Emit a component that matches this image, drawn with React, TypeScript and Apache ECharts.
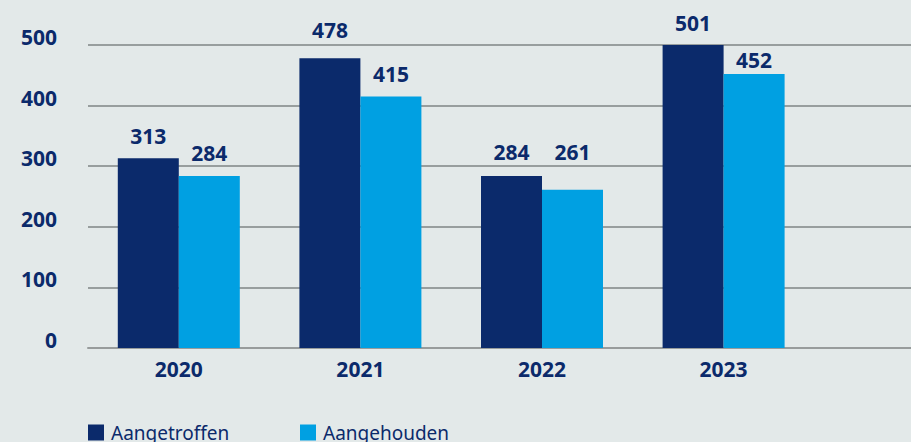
import React, { useEffect, useRef } from "react";
import * as echarts from "echarts";

const categories = ["2020", "2021", "2022", "2023", ""];
const aangetroffen = [313, 478, 284, 501];
const aangehouden = [284, 415, 261, 452];
const seriesNames = ["Aangetroffen", "Aangehouden"];

// vertical nudges of value labels (px, negative = up), as placed in the reference
const nudgeA = [0, -6, -1.5, 0];
const nudgeB = [0, 0, -15.5, 8.5];

const NAVY = "#0b2a6b";
const BLUE = "#00a0e2";
const BG = "#e3e9e9";
const FONT = "'Noto Sans', sans-serif";

export default function App() {
  const ref = useRef<HTMLDivElement>(null);
  useEffect(() => {
    if (!ref.current) return;
    const chart = echarts.init(ref.current, undefined, { renderer: "svg" });
    const labelStyle = {
      show: true,
      position: "top" as const,
      distance: 12,
      color: NAVY,
      fontFamily: FONT,
      fontWeight: "bold" as const,
      fontSize: 21,
    };
    const legendBase = {
      top: 423,
      padding: 0,
      itemWidth: 16,
      itemHeight: 16,
      itemGap: 0,
      icon: "rect",
      textStyle: { color: NAVY, fontSize: 19, fontFamily: FONT, padding: [0, 0, 0, 2] },
    };
    chart.setOption({
      animation: false,
      backgroundColor: BG,
      textStyle: { fontFamily: FONT },
      grid: { left: 88, top: 45, width: 908, bottom: 94, containLabel: false },
      legend: [
        { ...legendBase, data: [seriesNames[0]], left: 88 },
        { ...legendBase, data: [seriesNames[1]], left: 300 },
      ],
      xAxis: {
        type: "category",
        data: categories,
        axisTick: { show: false },
        axisLine: { show: true, lineStyle: { color: "#989c9c", width: 2 } },
        axisLabel: {
          color: NAVY,
          fontWeight: "bold",
          fontSize: 21,
          fontFamily: FONT,
          margin: 10,
        },
      },
      yAxis: {
        type: "value",
        min: 0,
        max: 500,
        interval: 100,
        axisLine: { show: false },
        axisTick: { show: false },
        splitLine: { lineStyle: { color: "#7f8585", width: 1.5 } },
        axisLabel: {
          color: NAVY,
          fontWeight: "bold",
          fontSize: 21,
          fontFamily: FONT,
          margin: 31,
          verticalAlign: "bottom",
          lineHeight: 16,
        },
      },
      series: [
        {
          name: seriesNames[0],
          type: "bar",
          data: aangetroffen.map((v, i) => ({ value: v, label: { offset: [0, nudgeA[i]] } })),
          barWidth: 61,
          barGap: "0%",
          itemStyle: { color: NAVY },
          label: labelStyle,
        },
        {
          name: seriesNames[1],
          type: "bar",
          data: aangehouden.map((v, i) => ({ value: v, label: { offset: [0, nudgeB[i]] } })),
          barWidth: 61,
          barGap: "0%",
          itemStyle: { color: BLUE },
          label: labelStyle,
        },
      ],
    });
    return () => chart.dispose();
  }, []);
  return (
    <div
      style={{
        position: "absolute",
        left: 0,
        top: 0,
        width: 911,
        height: 442,
        overflow: "hidden",
        background: BG,
      }}
    >
      <div ref={ref} style={{ width: 1000, height: 442 }} />
    </div>
  );
}
